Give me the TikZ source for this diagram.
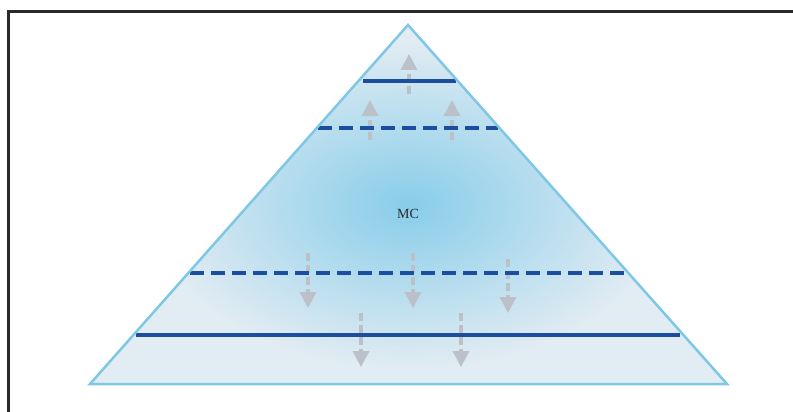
\documentclass[tikz,border=0pt]{standalone}
\usepackage{fontspec}
\setmainfont{Liberation Serif}
\usetikzlibrary{arrows.meta}
\definecolor{framec}{HTML}{2A2A2A}
\definecolor{triedge}{HTML}{7EC8E6}
\definecolor{tribase}{HTML}{E2ECF3}
\definecolor{glow}{HTML}{88CDE9}
\definecolor{lineblue}{HTML}{1B4E9F}
\definecolor{arrowgray}{HTML}{BCC0C8}
\tikzset{
  framestyle/.style={draw=framec, line width=3pt},
  levelsolid/.style={draw=lineblue, line width=3.2pt},
  leveldashed/.style={draw=lineblue, line width=3.2pt, dash pattern=on 14pt off 7pt},
  flow/.style={draw=arrowgray, line width=3.5pt, dash pattern=on 8pt off 4pt,
    -{Triangle[width=16pt,length=16pt]}},
  lbl/.style={text=framec, font=\fontsize{14}{16}\selectfont, inner sep=0pt}
}
\begin{document}
\begin{tikzpicture}[x=1pt,y=-1pt]
\useasboundingbox (0,0) rectangle (793,412);
% frame
\coordinate (fbl) at (8,420);
\coordinate (ftl) at (8,12);
\coordinate (ftr) at (800,12);
\draw[framestyle] (fbl) -- (ftl) -- (ftr);
% triangle
\coordinate (apex) at (408,25);
\coordinate (bl) at (90,384);
\coordinate (br) at (727,384);
\fill[tribase] (apex) -- (bl) -- (br) -- cycle;
\begin{scope}
  \clip (apex) -- (bl) -- (br) -- cycle;
  \shade[inner color=glow, outer color=tribase] (408,205) ellipse [x radius=260, y radius=165];
\end{scope}
% flow arrows
\coordinate (u1s) at (409,94);  \coordinate (u1e) at (409,54);
\coordinate (u2s) at (370,140); \coordinate (u2e) at (370,100);
\coordinate (u3s) at (452,140); \coordinate (u3e) at (452,100);
\coordinate (d1s) at (308,253); \coordinate (d1e) at (308,308);
\coordinate (d2s) at (413,253); \coordinate (d2e) at (413,308);
\coordinate (d3s) at (508,259); \coordinate (d3e) at (508,313);
\coordinate (d4s) at (361,313); \coordinate (d4e) at (361,367);
\coordinate (d5s) at (461,313); \coordinate (d5e) at (461,367);
\foreach \a in {u1,u2,u3,d1,d2,d3,d4,d5}{
  \draw[flow] (\a s) -- (\a e);
}
% level lines
\coordinate (l1a) at (363,81);  \coordinate (l1b) at (456,81);
\coordinate (l2a) at (318,128); \coordinate (l2b) at (498,128);
\coordinate (l3a) at (190,273); \coordinate (l3b) at (628,273);
\coordinate (l4a) at (136,335); \coordinate (l4b) at (680,335);
\draw[levelsolid] (l1a) -- (l1b);
\draw[leveldashed] (l2a) -- (l2b);
\draw[leveldashed] (l3a) -- (l3b);
\draw[levelsolid] (l4a) -- (l4b);
% triangle outline
\draw[triedge, line width=2.5pt, line join=miter] (apex) -- (bl) -- (br) -- cycle;
% label
\node[lbl] (mc) at (408,214) {MC};
\end{tikzpicture}
\end{document}
